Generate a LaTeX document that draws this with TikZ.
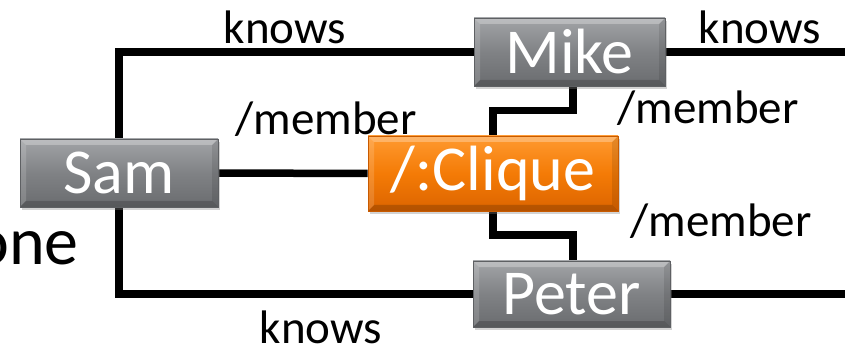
\documentclass[tikz,border=0pt]{standalone}
\usepackage{fontspec}
\setmainfont{Carlito}
\usetikzlibrary{shadows,backgrounds,calc}

\definecolor{graytop}{HTML}{A2A4A7}
\definecolor{graymid}{HTML}{808285}
\definecolor{graybot}{HTML}{6A6C6F}
\definecolor{grayedge}{HTML}{5E6063}
\definecolor{orngtop}{HTML}{FF9A30}
\definecolor{orngmid}{HTML}{F47B06}
\definecolor{orngbot}{HTML}{DC6400}
\definecolor{orngedge}{HTML}{C85A00}

\tikzset{
  x=1pt, y=1pt,
  box/.style={rectangle, font=\fontsize{64}{64}\selectfont, text=white,
    inner sep=0pt, drop shadow={opacity=0.35, shadow xshift=2pt, shadow yshift=-3pt},
    path picture={
      % bevel: light top/left rim, dark bottom/right rim
      \fill[white, opacity=0.28] (path picture bounding box.north west) -- (path picture bounding box.north east)
        -- ++(-6,-6) -- ($(path picture bounding box.north west)+(6,-6)$) -- cycle;
      \fill[white, opacity=0.15] (path picture bounding box.north west) -- ($(path picture bounding box.north west)+(6,-6)$)
        -- ($(path picture bounding box.south west)+(6,6)$) -- (path picture bounding box.south west) -- cycle;
      \fill[black, opacity=0.18] (path picture bounding box.south west) -- (path picture bounding box.south east)
        -- ++(-6,6) -- ($(path picture bounding box.south west)+(6,6)$) -- cycle;
      \fill[black, opacity=0.10] (path picture bounding box.north east) -- (path picture bounding box.south east)
        -- ++(-6,6) -- ($(path picture bounding box.north east)+(-6,-6)$) -- cycle;
    }},
  graybox/.style={box, top color=graytop, bottom color=graybot, middle color=graymid, draw=grayedge, line width=0.8pt},
  orangebox/.style={box, top color=orngtop, bottom color=orngbot, middle color=orngmid, draw=orngedge, line width=0.8pt},
  link/.style={line width=7.5pt, line join=miter, black},
  lbl/.style={font=\fontsize{47}{47}\selectfont, inner sep=0pt}
}

\begin{document}
\begin{tikzpicture}
\useasboundingbox (0,0) rectangle (845,348);

% people and the clique
\node[graybox, minimum width=198, minimum height=68] (Sam) at (119,175) {Sam};
\node[graybox, minimum width=191, minimum height=68] (Mike) at (569.5,296) {Mike};
\node[orangebox, minimum width=250, minimum height=75] (Clique) at (493,174.5) {/:Clique};
\node[graybox, minimum width=197, minimum height=66] (Peter) at (571.5,54) {Peter};

\coordinate (rim) at (845,0);

% connectors, behind the boxes
\begin{scope}[on background layer]
  \draw[link] (Sam.north) |- (Mike.west);
  \draw[link] (Sam.south) |- (Peter.west);
  \draw[link] (Mike.east) -- (Mike.east -| rim);
  \draw[link] (Peter.east) -- (Peter.east -| rim);
  \draw[link] (Sam.east) -- (Clique.west);
  \draw[link] ([xshift=3.5]Mike.south) -- ++(0,-24) -| (Clique.north);
  \draw[link] (Clique.south) -- ++(0,-23.5) -| ([xshift=1.5]Peter.north);
\end{scope}

% edge labels
\node[lbl] (k1) at (285,321) {knows};
\node[lbl] (k2) at (760,321) {knows};
\node[lbl] (k3) at (321,21) {knows};
\node[lbl] (m1) at (326,229) {/member};
\node[lbl] (m2) at (708,240) {/member};
\node[lbl] (m3) at (721,127) {/member};
\node[font=\fontsize{68}{68}\selectfont, inner sep=0pt, anchor=east] (one) at (79,100) {one};
\end{tikzpicture}
\end{document}
